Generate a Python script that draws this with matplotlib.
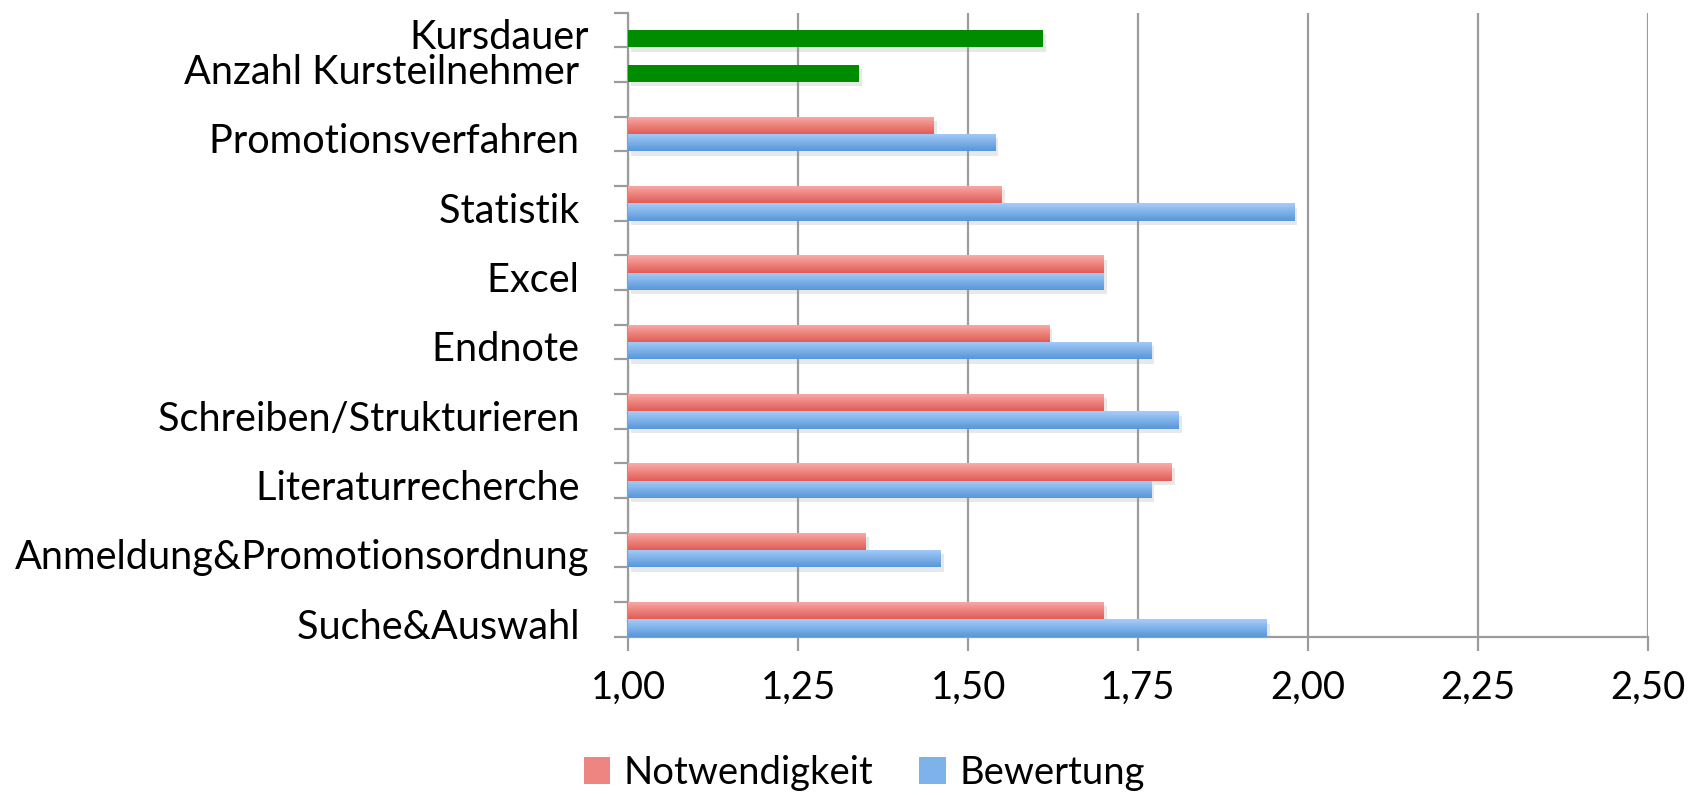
import matplotlib
matplotlib.use('Agg')
import matplotlib.pyplot as plt
import numpy as np
from matplotlib import patheffects as pe
from matplotlib.colors import LinearSegmentedColormap
from matplotlib.patches import Patch
from matplotlib.transforms import ScaledTranslation

plt.rcParams['font.family'] = ['Lato', 'DejaVu Sans']

categories = ['Suche&Auswahl', 'Anmeldung&Promotionsordnung', 'Literaturrecherche',
              'Schreiben/Strukturieren', 'Endnote', 'Excel', 'Statistik', 'Promotionsverfahren']
notwendigkeit = [1.70, 1.35, 1.80, 1.70, 1.62, 1.70, 1.55, 1.45]
bewertung = [1.94, 1.46, 1.77, 1.81, 1.77, 1.70, 1.98, 1.54]
extra_categories = ['Anzahl Kursteilnehmer', 'Kursdauer']
extra_values = [1.34, 1.61]
xticks = [1.00, 1.25, 1.50, 1.75, 2.00, 2.25, 2.50]
xtick_labels = ['1,00', '1,25', '1,50', '1,75', '2,00', '2,25', '2,50']
series_names = ['Notwendigkeit', 'Bewertung']

BASE = 1.0
red_top, red_bot = '#FBACA8', '#E05C55'
blue_top, blue_bot = '#A6CCFA', '#5797D8'
green = '#008C00'
grid_col = '#9C9C9C'

fig = plt.figure(figsize=(16.98, 7.95), dpi=100)
ax = fig.add_axes([0.370, 0.199, 0.6005, 0.785])

slot_lo = np.arange(len(categories)) * 2
shadow = [pe.SimplePatchShadow(offset=(2, -3), shadow_rgbFace='#999999', alpha=0.22), pe.Normal()]

def grad_bars(bars, top, bot):
    cmap = LinearSegmentedColormap.from_list('g', [bot, top])
    grad = np.linspace(0, 1, 64).reshape(-1, 1)
    for p in bars:
        p.set_path_effects(shadow)
        x0, y0 = p.get_x(), p.get_y()
        w, h = p.get_width(), p.get_height()
        im = ax.imshow(grad, extent=(x0, x0 + w, y0, y0 + h), origin='lower',
                       cmap=cmap, aspect='auto', zorder=3, interpolation='bicubic')
        im.set_clip_path(p)

red_bars = ax.barh(slot_lo + 0.75, np.array(notwendigkeit) - BASE, left=BASE, height=0.5,
                   color=red_bot, zorder=2.5, linewidth=0)
blue_bars = ax.barh(slot_lo + 0.25, np.array(bewertung) - BASE, left=BASE, height=0.5,
                    color=blue_bot, zorder=2.5, linewidth=0)
grad_bars(red_bars, red_top, red_bot)
grad_bars(blue_bars, blue_top, blue_bot)

extra_lo = np.array([16, 17])
green_bars = ax.barh(extra_lo + 0.25, np.array(extra_values) - BASE, left=BASE, height=0.5,
                     color=green, zorder=3, linewidth=0)
for p in green_bars:
    p.set_path_effects(shadow)

ax.set_xlim(1.0, 2.5)
ax.set_ylim(0, 18)

ax.set_xticks(xticks)
ax.set_xticklabels(xtick_labels)
ax.xaxis.grid(True, color=grid_col, linewidth=1.6, zorder=0)
ax.set_axisbelow(True)
ax.tick_params(axis='x', length=10, width=1.6, color=grid_col, labelsize=27.5, pad=14)

ylabels = [c if c.startswith('Anmeldung') else c + ' ' for c in categories] + \
          [extra_categories[0] + ' ', extra_categories[1]]
ypos = list(slot_lo + 0.5) + list(extra_lo + 0.5)
ax.set_yticks(ypos)
ax.set_yticklabels(ylabels)
ax.tick_params(axis='y', which='major', length=0, labelsize=28.6, pad=28)
ax.set_yticks(np.arange(0, 19), minor=True)
ax.tick_params(axis='y', which='minor', length=10, width=1.6, color=grid_col)
offset = ScaledTranslation(0, -3.0 / 72, fig.dpi_scale_trans)
for lab in ax.get_yticklabels():
    lab.set_transform(lab.get_transform() + offset)

for s in ['top', 'right']:
    ax.spines[s].set_visible(False)
for s in ['left', 'bottom']:
    ax.spines[s].set_color(grid_col)
    ax.spines[s].set_linewidth(1.6)

handles = [Patch(facecolor='#EE8580', edgecolor='none'), Patch(facecolor='#7DB2EA', edgecolor='none')]
fig.legend(handles, series_names, loc='center', bbox_to_anchor=(0.509, 0.028), ncol=2,
           frameon=False, fontsize=27.5, handlelength=0.7, handleheight=0.7,
           handletextpad=0.35, columnspacing=1.2)

fig.savefig('out.png', dpi=100)
